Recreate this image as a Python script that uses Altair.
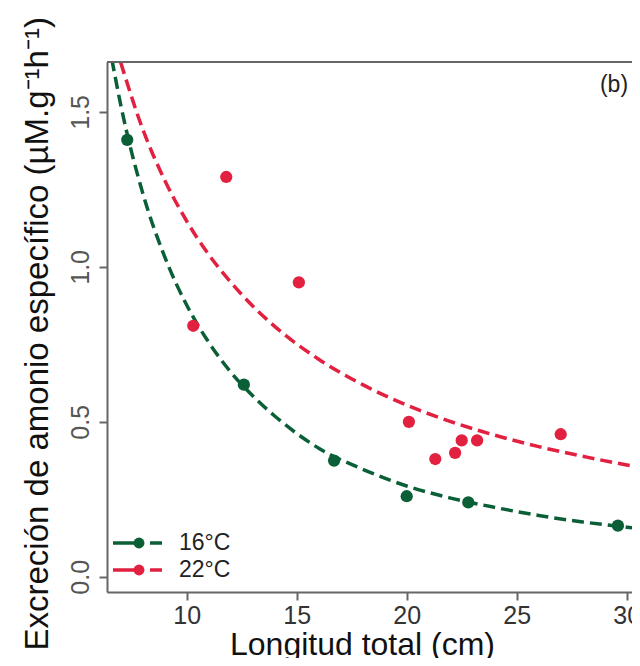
import altair as alt
import pandas as pd

# ---- data ----
green_x = [7.3, 12.6, 16.7, 20.0, 22.8, 29.6]
green_y = [1.41, 0.62, 0.375, 0.26, 0.24, 0.165]

red_x = [10.3, 11.8, 15.1, 20.1, 21.3, 22.2, 22.5, 23.2, 27.0]
red_y = [0.81, 1.29, 0.95, 0.50, 0.38, 0.40, 0.44, 0.44, 0.46]

green_curve_x = [6.6, 7, 8, 9, 10, 11, 12, 13, 14, 16, 18, 20, 22, 24, 26, 28, 30, 30.6]
green_curve_y = [1.67, 1.524, 1.239, 1.033, 0.877, 0.757, 0.661, 0.584, 0.519, 0.415, 0.347, 0.293, 0.254, 0.224, 0.198, 0.177, 0.160, 0.155]

red_curve_x = [7.0, 8, 9, 10, 11, 12, 13, 14, 16, 18, 20, 22, 24, 26, 28, 30, 30.6]
red_curve_y = [1.66, 1.445, 1.28, 1.148, 1.04, 0.951, 0.874, 0.808, 0.702, 0.620, 0.554, 0.501, 0.457, 0.420, 0.389, 0.361, 0.354]

legend_labels = ["16°C", "22°C"]
panel_label = ["(b)"]
x_ticks = [10, 15, 20, 25, 30]
y_ticks = [0.0, 0.5, 1.0, 1.5]

# ---- style ----
X_DOMAIN = [6.38, 30.24]
Y_DOMAIN = [-0.049, 1.661]
W, H = 525, 530
GREEN = "#0b5f36"
RED = "#e2203f"
FONT = "Liberation Sans"
FRAME = "#666666"

xs = alt.Scale(domain=X_DOMAIN, nice=False, zero=False)
ys = alt.Scale(domain=Y_DOMAIN, nice=False, zero=False)

x_axis = alt.Axis(
    values=x_ticks, title="Longitud total (cm)", grid=False,
    domainColor=FRAME, domainWidth=2, tickColor=FRAME, tickWidth=2, tickSize=8,
    labelFontSize=25, labelColor="#333333", labelPadding=3, labelFont=FONT,
    labelFlush=False, labelOverlap=False,
    titleFont=FONT, titleFontSize=32, titleFontWeight="normal", titleColor="#111111",
    titleX=255, titleY=62, titleAlign="center", titleBaseline="alphabetic",
)
y_axis = alt.Axis(
    values=y_ticks, format=".1f",
    title="Excreción de amonio específico (µM.g⁻¹h⁻¹)", grid=False,
    domainColor=FRAME, domainWidth=2, tickColor=FRAME, tickWidth=2, tickSize=8,
    labelFontSize=25, labelColor="#555555", labelPadding=11, labelFont=FONT,
    labelAngle=270, labelAlign="center", labelBaseline="alphabetic",
    labelFlush=False, labelOverlap=False,
    titleFont=FONT, titleFontSize=33, titleFontWeight="normal", titleColor="#111111",
    titleAngle=270, titleX=-60, titleY=588, titleAlign="left", titleBaseline="alphabetic",
)

def xenc():
    return alt.X("x:Q", scale=xs, axis=x_axis)

def yenc():
    return alt.Y("y:Q", scale=ys, axis=y_axis)

g_curve = pd.DataFrame({"x": green_curve_x, "y": green_curve_y})
r_curve = pd.DataFrame({"x": red_curve_x, "y": red_curve_y})
g_pts = pd.DataFrame({"x": green_x, "y": green_y})
r_pts = pd.DataFrame({"x": red_x, "y": red_y})

layers = []
layers.append(alt.Chart(r_curve).mark_line(
    color=RED, strokeWidth=3.5, strokeDash=[12, 6], interpolate="monotone", clip=True
).encode(x=xenc(), y=yenc()))
layers.append(alt.Chart(g_curve).mark_line(
    color=GREEN, strokeWidth=3.5, strokeDash=[12, 6], interpolate="monotone", clip=True
).encode(x=xenc(), y=yenc()))
layers.append(alt.Chart(r_pts).mark_circle(
    color=RED, size=150, opacity=1
).encode(x=xenc(), y=yenc()))
layers.append(alt.Chart(g_pts).mark_circle(
    color=GREEN, size=150, opacity=1
).encode(x=xenc(), y=yenc()))

# top frame line
layers.append(alt.Chart(pd.DataFrame({"a": [0]})).mark_rule(
    color=FRAME, strokeWidth=2
).encode(x=alt.value(0), x2=alt.value(W), y=alt.value(0)))

# legend (inside bottom-left)
for label, color, ypix in zip(legend_labels, [GREEN, RED], [481, 508]):
    layers.append(alt.Chart(pd.DataFrame({"a": [0]})).mark_rule(
        color=color, strokeWidth=3.5, strokeDash=[30, 7, 12, 50]
    ).encode(x=alt.value(6), x2=alt.value(55), y=alt.value(ypix)))
    layers.append(alt.Chart(pd.DataFrame({"a": [0]})).mark_circle(
        color=color, size=120, opacity=1
    ).encode(x=alt.value(32), y=alt.value(ypix)))
    layers.append(alt.Chart(pd.DataFrame({"t": [label]})).mark_text(
        font=FONT, fontSize=23, color="#222222", align="left", baseline="middle"
    ).encode(text="t:N", x=alt.value(72), y=alt.value(ypix)))

# panel label
layers.append(alt.Chart(pd.DataFrame({"t": panel_label})).mark_text(
    font=FONT, fontSize=23, color="#222222", align="center", baseline="middle"
).encode(text="t:N", x=alt.value(507), y=alt.value(23)))

chart = alt.layer(*layers).properties(
    width=W, height=H,
    autosize=alt.AutoSizeParams(type="none"),
    padding={"left": 99, "top": 54, "right": 0, "bottom": 66},
).configure_view(stroke=None).configure(background="white")

chart.save("out.html", embed_options={"renderer": "svg", "actions": False})
